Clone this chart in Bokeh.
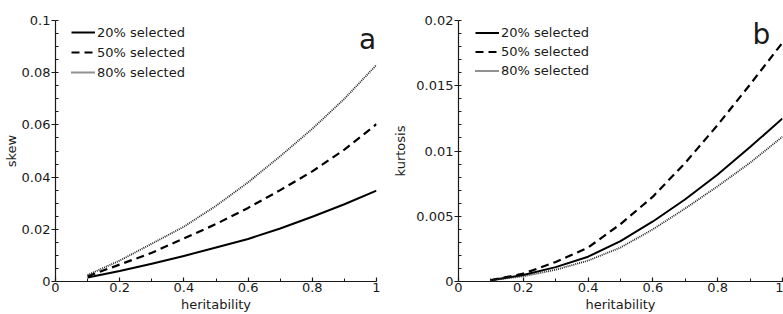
import numpy as np
from bokeh.plotting import figure
from bokeh.layouts import row
from bokeh.models import (FixedTicker, CustomJSTickFormatter, Legend, LegendItem,
                          Label, Range1d)
from bokeh.embed import file_html
from bokeh.resources import INLINE

# heritability grid shared by both panels
heritability = [0.1, 0.2, 0.3, 0.4, 0.5, 0.6, 0.7, 0.8, 0.9, 1.0]

# panel a: skew of the breeding-value distribution
skew_20 = [0.0015, 0.0040, 0.0068, 0.0098, 0.0130, 0.0163, 0.0203, 0.0248, 0.0296, 0.0348]
skew_50 = [0.0020, 0.0065, 0.0110, 0.0165, 0.0220, 0.0282, 0.0350, 0.0422, 0.0505, 0.0603]
skew_80 = [0.0025, 0.0080, 0.0145, 0.0210, 0.0290, 0.0380, 0.0480, 0.0585, 0.0700, 0.0830]

# panel b: kurtosis
kurt_20 = [0.0001, 0.0005, 0.0011, 0.0019, 0.0031, 0.0046, 0.0063, 0.0082, 0.0103, 0.0125]
kurt_50 = [0.0001, 0.0006, 0.0015, 0.0026, 0.0044, 0.0065, 0.0091, 0.0120, 0.0151, 0.0183]
kurt_80 = [0.0001, 0.0004, 0.0009, 0.0016, 0.0026, 0.0040, 0.0056, 0.0073, 0.0091, 0.0111]

series_labels = ["20% selected", "50% selected", "80% selected"]

x_ticks = [0, 0.2, 0.4, 0.6, 0.8, 1]
skew_ticks = [0, 0.02, 0.04, 0.06, 0.08, 0.1]
kurt_ticks = [0, 0.005, 0.01, 0.015, 0.02]

FONT = "DejaVu Sans"
INK = "#1a1a1a"

fmt_code = "return String(parseFloat(tick.toFixed(4)));"


def style_axes(p, yticks, yminor, xminor, ytitle, ytitle_gap):
    p.xaxis.ticker = FixedTicker(ticks=x_ticks, minor_ticks=xminor)
    p.yaxis.ticker = FixedTicker(ticks=yticks, minor_ticks=yminor)
    for ax in (p.xaxis[0], p.yaxis[0]):
        ax.formatter = CustomJSTickFormatter(code=fmt_code)
        ax.axis_line_color = INK
        ax.axis_line_width = 1.2
        ax.major_tick_line_color = INK
        ax.major_tick_line_width = 1.2
        ax.minor_tick_line_color = INK
        ax.major_label_text_font = FONT
        ax.major_label_text_font_size = "13px"
        ax.major_label_text_color = INK
        ax.axis_label_text_font = FONT
        ax.axis_label_text_font_size = "13px"
        ax.axis_label_text_font_style = "normal"
        ax.axis_label_text_color = INK
    p.yaxis.major_tick_out = 4
    p.yaxis.major_tick_in = 0
    p.yaxis.minor_tick_out = 0
    p.yaxis.minor_tick_in = 3
    p.yaxis.major_label_standoff = 1
    p.yaxis.axis_label = ytitle
    p.yaxis.axis_label_standoff = ytitle_gap
    p.xaxis.major_tick_out = 0
    p.xaxis.major_tick_in = 4
    p.xaxis.minor_tick_out = 0
    p.xaxis.minor_tick_in = 3
    p.xaxis.major_label_standoff = 1
    p.xaxis.axis_label = "heritability"
    p.xaxis.axis_label_standoff = 2
    p.xgrid.visible = False
    p.ygrid.visible = False
    p.outline_line_color = None


def add_series(p, ys):
    r1 = p.line(heritability, ys[0], line_color="black", line_width=2.0,
                line_join="round")
    r2 = p.line(heritability, ys[1], line_color="black", line_width=2.2,
                line_dash="8 5", line_join="round")
    r3 = p.line(heritability, ys[2], line_color="#222222", line_width=1.8,
                line_dash="1 1", line_join="round")
    return [r1, r2, r3]


def add_legend(p, renderers, loc, row_h):
    items = [LegendItem(label=lab, renderers=[r])
             for lab, r in zip(series_labels, renderers)]
    leg = Legend(items=items, location=loc, margin=0, padding=0, spacing=0,
                 glyph_width=24, glyph_height=row_h, label_height=row_h,
                 label_standoff=2, label_text_font=FONT,
                 label_text_font_size="13px", label_text_color=INK,
                 border_line_color=None, background_fill_alpha=0)
    p.add_layout(leg)


def panel_letter(p, x, y, s):
    p.add_layout(Label(x=x, y=y, text=s, text_font=FONT,
                       text_font_size="28px", text_color=INK,
                       text_align="center", text_baseline="middle"))


# ---- panel a: skew ----
pa = figure(width=390, height=314, output_backend="svg", toolbar_location=None,
            x_range=Range1d(0, 1), y_range=Range1d(0, 0.1),
            min_border_left=54, min_border_right=14,
            min_border_top=20, min_border_bottom=30)
style_axes(pa, skew_ticks,
           list(np.round(np.arange(0, 0.1001, 0.005), 4)),
           list(np.round(np.arange(0, 1.001, 0.1), 2)),
           "skew", 0)
ra = add_series(pa, [skew_20, skew_50, skew_80])
add_legend(pa, ra, (16, 199), 20)
panel_letter(pa, 0.972, 0.0929, "a")

# ---- panel b: kurtosis ----
pb = figure(width=393, height=314, output_backend="svg", toolbar_location=None,
            x_range=Range1d(0, 1), y_range=Range1d(0, 0.02),
            min_border_left=68, min_border_right=1,
            min_border_top=20, min_border_bottom=30)
style_axes(pb, kurt_ticks,
           list(np.round(np.arange(0, 0.02001, 0.001), 4)),
           list(np.round(np.arange(0, 1.001, 0.1), 2)),
           "kurtosis", 5)
rb = add_series(pb, [kurt_20, kurt_50, kurt_80])
add_legend(pb, rb, (17, 201), 19)
panel_letter(pb, 0.935, 0.0189, "b")

layout = row(pa, pb, spacing=0)
open("out.html", "w").write(file_html(layout, INLINE))
